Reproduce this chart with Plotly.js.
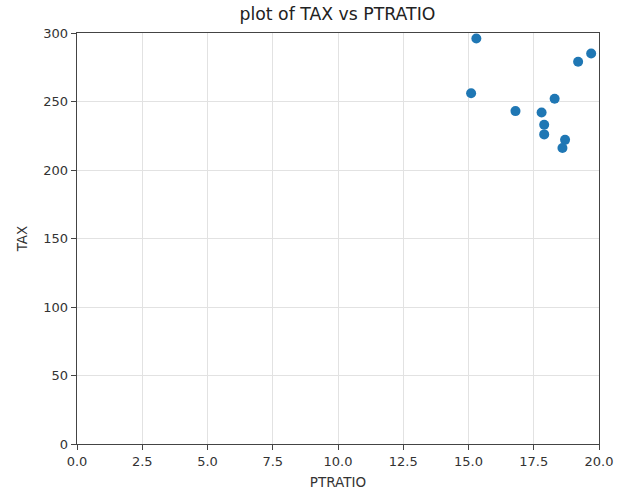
<!DOCTYPE html>
<html>
<head>
<meta charset="utf-8">
<script src="https://cdn.plot.ly/plotly-3.0.1.min.js"></script>
<style>html,body{margin:0;padding:0;background:#fff;}#chart{width:626px;height:491px;}</style>
</head>
<body>
<div id="chart"></div>
<script>
const ptratio = [15.3, 15.1, 16.8, 17.8, 18.3, 17.9, 17.9, 18.7, 18.6, 19.2, 19.7];
const tax = [296, 256, 243, 242, 252, 233, 226, 222, 216, 279, 285];
const xTicks = [0, 2.5, 5, 7.5, 10, 12.5, 15, 17.5, 20];
const xTickLabels = ["0.0", "2.5", "5.0", "7.5", "10.0", "12.5", "15.0", "17.5", "20.0"];
const yTicks = [0, 50, 100, 150, 200, 250, 300];

const font = "DejaVu Sans, sans-serif";
const trace = {
  x: ptratio, y: tax, type: "scatter", mode: "markers",
  marker: {color: "#1f77b4", size: 10},
  hoverinfo: "none"
};
const axisCommon = {
  showline: true, mirror: true, linecolor: "#444", linewidth: 1.4,
  ticks: "outside", ticklen: 5, tickcolor: "#444", tickwidth: 1,
  showgrid: true, gridcolor: "#e2e2e2", gridwidth: 1,
  zeroline: false,
  tickfont: {family: font, size: 13, color: "#333"}
};
const layout = {
  width: 626, height: 491,
  margin: {l: 77, r: 27, t: 33, b: 47},
  paper_bgcolor: "#fff", plot_bgcolor: "#fff",
  showlegend: false,
  title: {text: "plot of TAX vs PTRATIO", x: 0.539, xanchor: "center", y: 0.972, yanchor: "middle",
          font: {family: font, size: 17.3, color: "#222"}},
  xaxis: Object.assign({}, axisCommon, {
    range: [0, 20], tickvals: xTicks, ticktext: xTickLabels,
    title: {text: "PTRATIO", standoff: 9, font: {family: font, size: 13.5, color: "#333"}}
  }),
  yaxis: Object.assign({}, axisCommon, {
    range: [0, 300], tickvals: yTicks,
    title: {text: "TAX", standoff: 12, font: {family: font, size: 13.5, color: "#333"}}
  })
};
Plotly.newPlot("chart", [trace], layout, {displayModeBar: false, staticPlot: true});
</script>
</body>
</html>
